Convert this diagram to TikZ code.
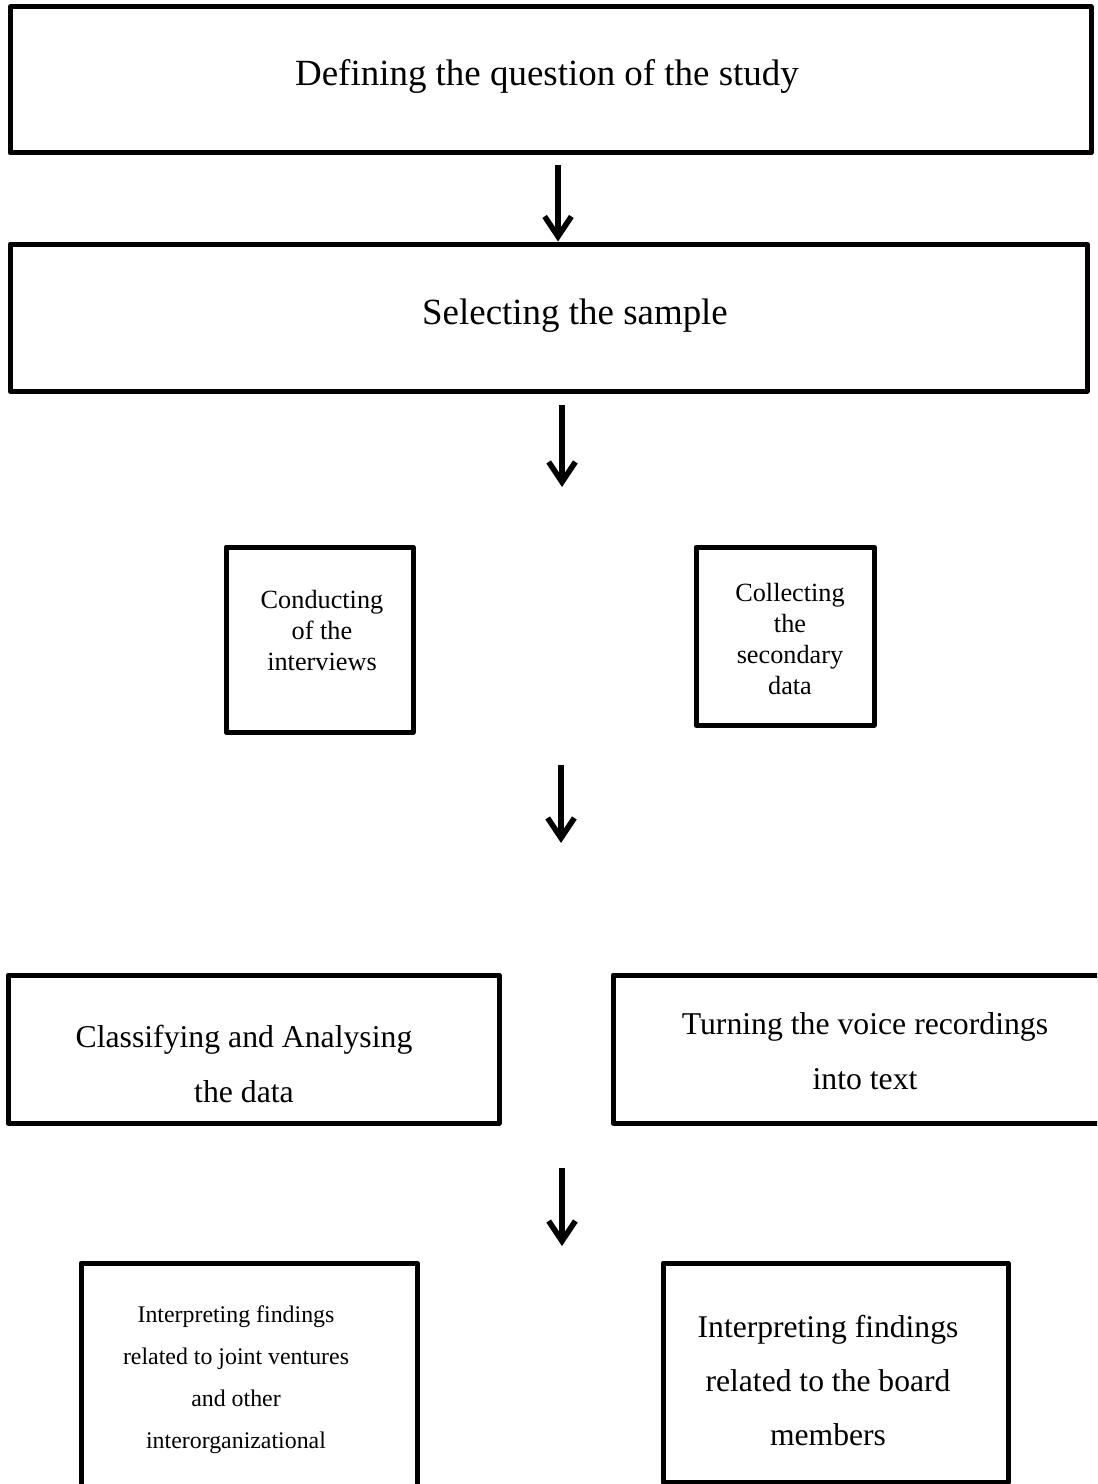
\documentclass[tikz,border=0pt]{standalone}
\usepackage{fontspec}
\setmainfont{Liberation Serif}
\usetikzlibrary{arrows.meta}
\begin{document}
\begin{tikzpicture}[x=0.75pt,y=-0.75pt,
  box/.style={draw, line width=3.75pt, line join=round, rectangle, inner sep=0pt},
  txt/.style={align=center, inner sep=0pt, anchor=base},
  flow/.style={line width=4.2pt, -{Straight Barb[length=15pt,width=20pt,line join=miter]}},
  fbig/.style={font=\fontsize{27.7}{33}\selectfont},
  fsq/.style={font=\fontsize{19.7}{23.1}\selectfont},
  fmid/.style={font=\fontsize{23.8}{41.2}\selectfont},
  fsmall/.style={font=\fontsize{17.9}{31.3}\selectfont},
  fmidb/.style={font=\fontsize{23.7}{40.5}\selectfont},
]
\useasboundingbox (0,0) rectangle (1097,1484);
\clip (0,0) rectangle (1097,1484);
\fill[white] (0,0) rectangle (1097,1484);

% boxes
\node[box, minimum width=810.75pt, minimum height=109.5pt] (b1) at (550.5,80) {};
\node[box, minimum width=807.75pt, minimum height=110.25pt] (b2) at (548.5,317.5) {};
\node[box, minimum width=140.25pt, minimum height=138.75pt] (b3a) at (319.5,639.5) {};
\node[box, minimum width=133.5pt, minimum height=133.5pt] (b3b) at (785,636) {};
\node[box, minimum width=368.25pt, minimum height=111pt] (b4a) at (253.5,1049) {};
\node[box, minimum width=372.75pt, minimum height=111pt] (b4b) at (861.5,1049) {};
\node[box, minimum width=252pt, minimum height=177.75pt] (b5a) at (249,1381.5) {};
\node[box, minimum width=258.75pt, minimum height=164.25pt] (b5b) at (835.5,1372.5) {};

% texts (anchor = baseline of the last line)
\node[txt, fbig] (t1) at (547,86) {Defining the question of the study};
\node[txt, fbig] (t2) at (575,324) {Selecting the sample};
\node[txt, fsq] (t3a) at (322,670) {Conducting\\of the\\interviews};
\node[txt, fsq] (t3b) at (790,694) {Collecting\\the\\secondary\\data};
\node[txt, fmid] (t4a) at (244,1102) {Classifying and Analysing\\the data};
\node[txt, fmid] (t4b) at (865,1089) {Turning the voice recordings\\into text};
\node[txt, fsmall] (t5a) at (236,1448) {Interpreting findings\\related to joint ventures\\and other\\interorganizational};
\node[txt, fmidb] (t5b) at (828,1445) {Interpreting findings\\related to the board\\members};

% arrows
\coordinate (a1s) at (558,165);
\coordinate (a2s) at (562,405);
\coordinate (a2e) at (562,487);
\coordinate (a3s) at (561,765);
\coordinate (a3e) at (561,843);
\coordinate (a4s) at (562,1168);
\coordinate (a4e) at (562,1246);
\draw[flow] (a1s) -- (a1s |- b2.north);
\draw[flow] (a2s) -- (a2e);
\draw[flow] (a3s) -- (a3e);
\draw[flow] (a4s) -- (a4e);
\end{tikzpicture}
\end{document}
